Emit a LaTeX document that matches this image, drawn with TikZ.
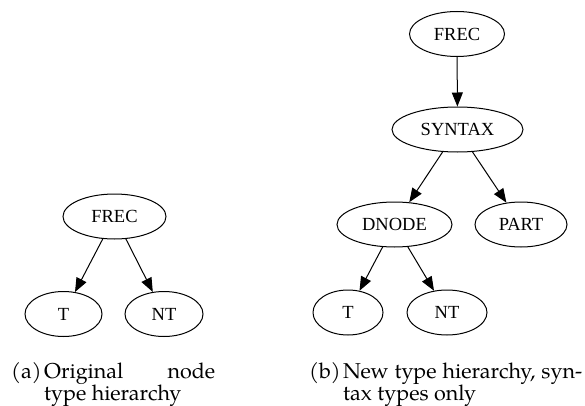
\documentclass[tikz,border=0pt]{standalone}
\usepackage{fontspec}
\setmainfont{Liberation Serif}
\newfontfamily\capfont{TeX Gyre Pagella}
\usetikzlibrary{shapes.geometric,arrows.meta}
\begin{document}
\begin{tikzpicture}[x=1pt,y=-1pt,
  nd/.style={ellipse,draw,line width=1pt,inner sep=0pt,minimum height=45pt,
    font=\fontsize{18.5}{20}\selectfont},
  arr/.style={line width=1pt,-{Triangle[length=14pt,width=11pt]}},
  captext/.style={font=\capfont\fontsize{21.5}{23}\selectfont,inner sep=0pt,anchor=base west}]
\useasboundingbox (0,0) rectangle (585,406);
% (a)
\node[nd,minimum width=103pt] (af) at (114.5,216.5) {FREC};
\node[nd,minimum width=77pt] (at) at (63.5,314) {T};
\node[nd,minimum width=78pt] (ant) at (164,314) {NT};
\draw[arr] (af) -- (at);
\draw[arr] (af) -- (ant);
% (b)
\node[nd,minimum width=95pt] (bf) at (457,34) {FREC};
\node[nd,minimum width=131pt] (bs) at (457.5,129.5) {SYNTAX};
\node[nd,minimum width=115pt] (bd) at (394.5,224.5) {DNODE};
\node[nd,minimum width=92pt] (bp) at (521,224.5) {PART};
\node[nd,minimum width=70pt] (bt) at (348,312.5) {T};
\node[nd,minimum width=80pt] (bnt) at (447,312.5) {NT};
\draw[arr] (bf) -- (bs);
\draw[arr] (bs) -- (bd);
\draw[arr] (bs) -- (bp);
\draw[arr] (bd) -- (bt);
\draw[arr] (bd) -- (bnt);
% captions
\node[captext] (ca) at (11,378) {(a)};
\node[captext] (ca1) at (44,378) {\hbox to 171pt{Original\hfill node}};
\node[captext] (ca2) at (44,400) {type hierarchy};
\node[captext] (cb) at (309,378) {(b)};
\node[captext] (cb1) at (343,378) {\hbox to 239pt{New\hfill type\hfill hierarchy,\hfill syn-}};
\node[captext] (cb2) at (343,400) {tax types only};
\end{tikzpicture}
\end{document}
